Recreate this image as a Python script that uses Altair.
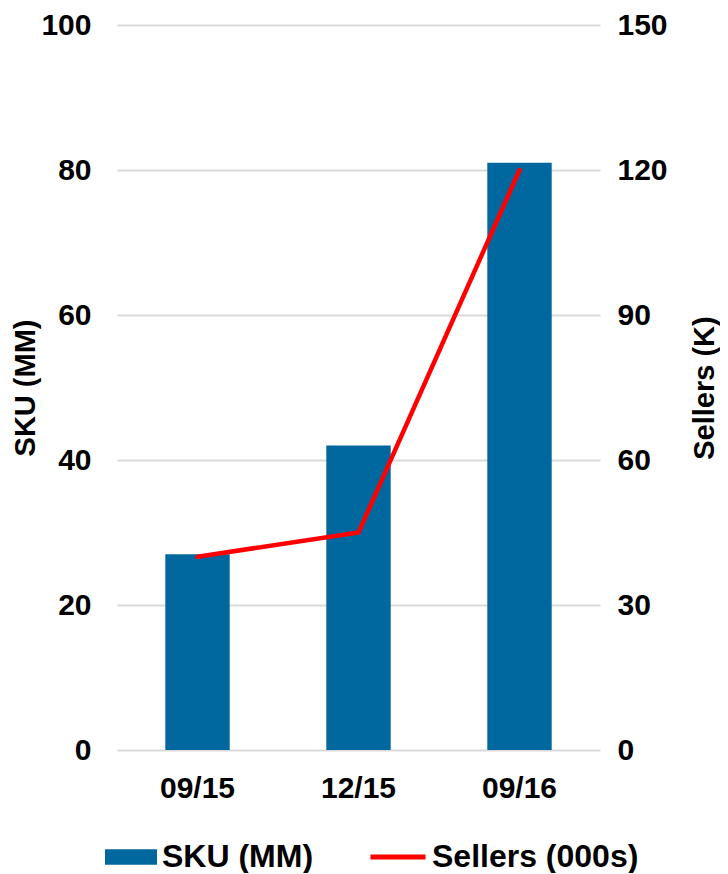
import altair as alt
import pandas as pd

periods = ["09/15", "12/15", "09/16"]
sku_mm = [27, 42, 81]
sellers_k = [40, 45, 120]

df = pd.DataFrame({"period": periods, "sku": sku_mm, "sellers": sellers_k,
                   "s1": ["SKU (MM)"] * 3, "s2": ["Sellers (000s)"] * 3})

FONT = "Liberation Sans"
BLUE = "#00689E"
RED = "#FF0000"

x = alt.X("period:N", sort=periods, title=None,
          scale=alt.Scale(paddingInner=0.6, paddingOuter=0.3),
          axis=alt.Axis(labelAngle=0, labelFontSize=30, labelFontWeight="bold",
                        labelColor="black", labelFont=FONT, domain=False, ticks=False,
                        tickSize=0, labelPadding=23, grid=False))

bars = alt.Chart(df).mark_bar(color=BLUE).encode(
    x=x,
    y=alt.Y("sku:Q", title="SKU (MM)",
            scale=alt.Scale(domain=[0, 100], nice=False),
            axis=alt.Axis(values=[0, 20, 40, 60, 80, 100], orient="left",
                          labelFontSize=30, labelFontWeight="bold", labelColor="black",
                          labelFont=FONT, domain=False, ticks=False, tickSize=0,
                          labelPadding=26, grid=True, gridColor="#D9D9D9",
                          gridWidth=2, titleFontSize=29, titleFont=FONT,
                          titleFontWeight="bold", titleColor="black", titlePadding=0)),
    fill=alt.Fill("s1:N", title=None,
                  scale=alt.Scale(domain=["SKU (MM)"], range=[BLUE]),
                  legend=alt.Legend(orient="none", legendX=-12, legendY=806,
                                    symbolType="M-1,-0.3H1V0.3H-1Z", symbolSize=2704,
                                    symbolStrokeWidth=0, symbolOpacity=1,
                                    labelFontSize=32, labelFontWeight="bold",
                                    labelFont=FONT, labelColor="black", labelOffset=5,
                                    labelLimit=400)),
)

line = alt.Chart(df).mark_line(color=RED, strokeWidth=4.5, strokeCap="round",
                               strokeJoin="miter").encode(
    x=x,
    y=alt.Y("sellers:Q", title="Sellers (K)",
            scale=alt.Scale(domain=[0, 150], nice=False),
            axis=alt.Axis(values=[0, 30, 60, 90, 120, 150], orient="right",
                          labelFontSize=30, labelFontWeight="bold", labelColor="black",
                          labelFont=FONT, domain=False, ticks=False, tickSize=0,
                          labelPadding=17, grid=False, titleFontSize=29, titleFont=FONT,
                          titleFontWeight="bold", titleColor="black", titleAngle=270,
                          titlePadding=52)),
    stroke=alt.Stroke("s2:N", title=None,
                      scale=alt.Scale(domain=["Sellers (000s)"], range=[RED]),
                      legend=alt.Legend(orient="none", legendX=251, legendY=802,
                                        symbolType="stroke", symbolSize=3025,
                                        symbolStrokeWidth=5, symbolOpacity=1,
                                        labelFontSize=32, labelFontWeight="bold",
                                        labelFont=FONT, labelColor="black", labelOffset=4,
                                        labelLimit=400)),
)

chart = alt.layer(bars, line).resolve_scale(y="independent", fill="independent",
                                            stroke="independent").properties(
    width=483, height=725,
    padding={"left": 3, "top": 2, "right": 0, "bottom": 0}
).configure(background="white").configure_view(stroke=None)

chart.save("out.html", embed_options={"renderer": "svg", "actions": False})
